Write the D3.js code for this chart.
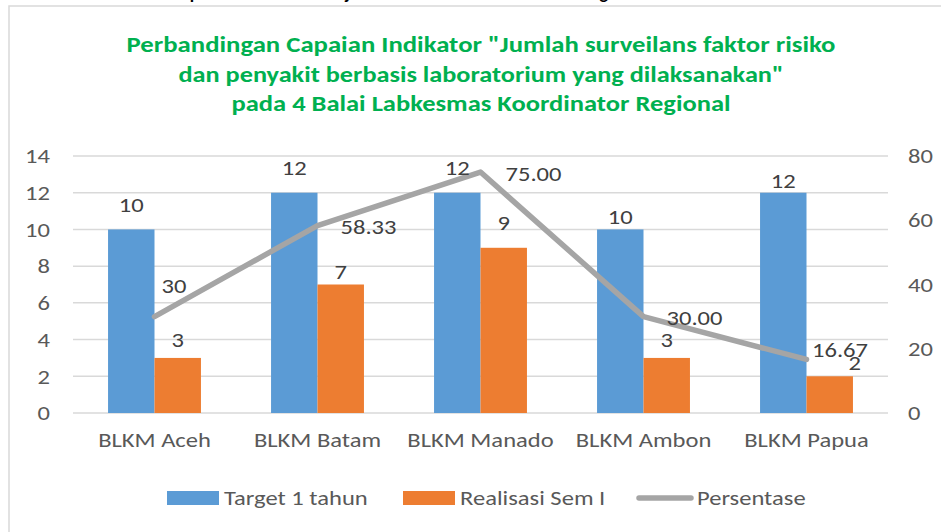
<!DOCTYPE html>
<html>
<head>
<meta charset="utf-8">
<script src="https://cdn.jsdelivr.net/npm/d3@7/dist/d3.min.js"></script>
<style>
  html, body { margin: 0; padding: 0; background: #fff; }
  svg { display: block; }
  text { font-family: Carlito, Calibri, "Open Sans", sans-serif; }
</style>
</head>
<body>
<svg id="chart" width="941" height="532"></svg>
<script>
// ---- data ----
const categories = ["BLKM Aceh", "BLKM Batam", "BLKM Manado", "BLKM Ambon", "BLKM Papua"];
const targetValues = [10, 12, 12, 10, 12];
const realisasiValues = [3, 7, 9, 3, 2];
const persentaseValues = [30, 58.33, 75.00, 30.00, 16.67];
const persentaseLabels = ["30", "58.33", "75.00", "30.00", "16.67"];
const leftTicks = [0, 2, 4, 6, 8, 10, 12, 14];
const rightTicks = [0, 20, 40, 60, 80];
const seriesNames = ["Target 1 tahun", "Realisasi Sem I", "Persentase"];
const titleLines = [
  "Perbandingan Capaian Indikator \"Jumlah surveilans faktor risiko",
  "dan penyakit berbasis laboratorium yang dilaksanakan\"",
  "pada 4 Balai Labkesmas Koordinator Regional"
];
const headerText = "Grafik 3.2 Capaian Indikator Kinerja Balai Labkesmas Koordinator Regional Semester I Tahun 2024";

// ---- layout ----
const svg = d3.select("#chart");
const colors = { target: "#5B9BD5", real: "#ED7D31", pct: "#A5A5A5" };
const plot = { left: 73, right: 888, top: 156, bottom: 413 };
const fontSize = 21;
const sx = 1.17; // the original picture is stretched horizontally
function stretch(sel) {
  sel.each(function () {
    const w = this.getComputedTextLength();
    d3.select(this).attr("textLength", w * sx).attr("lengthAdjust", "spacingAndGlyphs");
  });
}

// cut-off header text above frame
svg.append("text").attr("x", 96).attr("y", -1).attr("text-anchor", "start")
  .attr("font-size", 18).attr("font-weight", "bold").attr("fill", "#000")
  .attr("textLength", 720).attr("lengthAdjust", "spacingAndGlyphs")
  .text(headerText);

// frame
svg.append("rect").attr("x", 9).attr("y", 6).attr("width", 1000).attr("height", 600)
  .attr("fill", "none").attr("stroke", "#D9D9D9").attr("stroke-width", 1.5);

// title
const titleWidths = [709, 605, 499];
svg.append("g").selectAll("text").data(titleLines).join("text")
  .attr("x", 481).attr("y", (d, i) => 52 + i * 29.7)
  .attr("text-anchor", "middle").attr("font-size", 22).attr("font-weight", "bold")
  .attr("textLength", (d, i) => titleWidths[i]).attr("lengthAdjust", "spacingAndGlyphs")
  .attr("fill", "#00B050").text(d => d);

// scales
const x = d3.scaleBand().domain(categories).range([plot.left, plot.right]).padding(0);
const yL = d3.scaleLinear().domain([0, 14]).range([plot.bottom, plot.top]);
const yR = d3.scaleLinear().domain([0, 80]).range([plot.bottom, plot.top]);
const barW = x.bandwidth() * 0.285;
const cx = c => x(c) + x.bandwidth() / 2;

// gridlines
svg.append("g").selectAll("line").data(leftTicks).join("line")
  .attr("x1", plot.left).attr("x2", plot.right)
  .attr("y1", d => yL(d)).attr("y2", d => yL(d))
  .attr("stroke", "#D9D9D9").attr("stroke-width", 1.5);

// axes
const axL = svg.append("g").attr("transform", `translate(${plot.left},0)`)
  .call(d3.axisLeft(yL).tickValues(leftTicks).tickSize(0).tickPadding(23));
const axR = svg.append("g").attr("transform", `translate(${plot.right},0)`)
  .call(d3.axisRight(yR).tickValues(rightTicks).tickSize(0).tickPadding(20));
const axB = svg.append("g").attr("transform", `translate(0,${plot.bottom})`)
  .call(d3.axisBottom(x).tickSize(0).tickPadding(19));
[axL, axR, axB].forEach(a => {
  a.select(".domain").remove();
  a.selectAll("text").attr("font-size", fontSize).attr("fill", "#595959")
    .attr("font-family", "Carlito, Calibri, 'Open Sans', sans-serif").call(stretch);
});

// bars
svg.append("g").selectAll("rect").data(categories).join("rect")
  .attr("x", c => cx(c) - barW).attr("width", barW)
  .attr("y", (c, i) => yL(targetValues[i])).attr("height", (c, i) => plot.bottom - yL(targetValues[i]))
  .attr("fill", colors.target);
svg.append("g").selectAll("rect").data(categories).join("rect")
  .attr("x", c => cx(c)).attr("width", barW)
  .attr("y", (c, i) => yL(realisasiValues[i])).attr("height", (c, i) => plot.bottom - yL(realisasiValues[i]))
  .attr("fill", colors.real);

// line
const line = d3.line().x((d, i) => cx(categories[i])).y(d => yR(d));
svg.append("path").datum(persentaseValues).attr("d", line)
  .attr("fill", "none").attr("stroke", colors.pct).attr("stroke-width", 5.5)
  .attr("stroke-linejoin", "round").attr("stroke-linecap", "round");

// data labels (manual nudges like the original)
const targetDy = [-24.4, -24.7, -24.7, -12.7, -12];
const realDy = [-18, -12.8, -24.8, -18, -13.3];
const realDx = [0, 0, 0, 0, 25];
const labelStyle = sel => sel.attr("font-size", fontSize).attr("fill", "#404040")
  .attr("dominant-baseline", "central");
svg.append("g").selectAll("text").data(categories).join("text")
  .attr("x", c => cx(c) - barW / 2).attr("y", (c, i) => yL(targetValues[i]) + targetDy[i])
  .attr("text-anchor", "middle").call(labelStyle).text((c, i) => targetValues[i]).call(stretch);
svg.append("g").selectAll("text").data(categories).join("text")
  .attr("x", (c, i) => cx(c) + barW / 2 + realDx[i]).attr("y", (c, i) => yL(realisasiValues[i]) + realDy[i])
  .attr("text-anchor", "middle").call(labelStyle).text((c, i) => realisasiValues[i]).call(stretch);
const pctDx = [7, 23, 25, 23, 5.5];
const pctDy = [-31, 1, 2, 1.5, -9.5];
svg.append("g").selectAll("text").data(categories).join("text")
  .attr("x", (c, i) => cx(c) + pctDx[i]).attr("y", (c, i) => yR(persentaseValues[i]) + pctDy[i])
  .attr("text-anchor", "start").call(labelStyle).text((c, i) => persentaseLabels[i]).call(stretch);

// legend
const lg = svg.append("g");
const legendItems = [
  { name: seriesNames[0], type: "rect", color: colors.target, x: 167, tx: 224 },
  { name: seriesNames[1], type: "rect", color: colors.real, x: 403, tx: 460 },
  { name: seriesNames[2], type: "line", color: colors.pct, x: 637, tx: 697 }
];
legendItems.forEach(it => {
  if (it.type === "rect") {
    lg.append("rect").attr("x", it.x).attr("y", 491).attr("width", 52).attr("height", 14).attr("fill", it.color);
  } else {
    lg.append("line").attr("x1", it.x + 2).attr("x2", it.x + 54).attr("y1", 498).attr("y2", 498)
      .attr("stroke", it.color).attr("stroke-width", 5.5).attr("stroke-linecap", "round");
  }
  lg.append("text").attr("x", it.tx).attr("y", 498).attr("dominant-baseline", "central")
    .attr("font-size", fontSize).attr("fill", "#595959").text(it.name).call(stretch);
});
</script>
</body>
</html>
